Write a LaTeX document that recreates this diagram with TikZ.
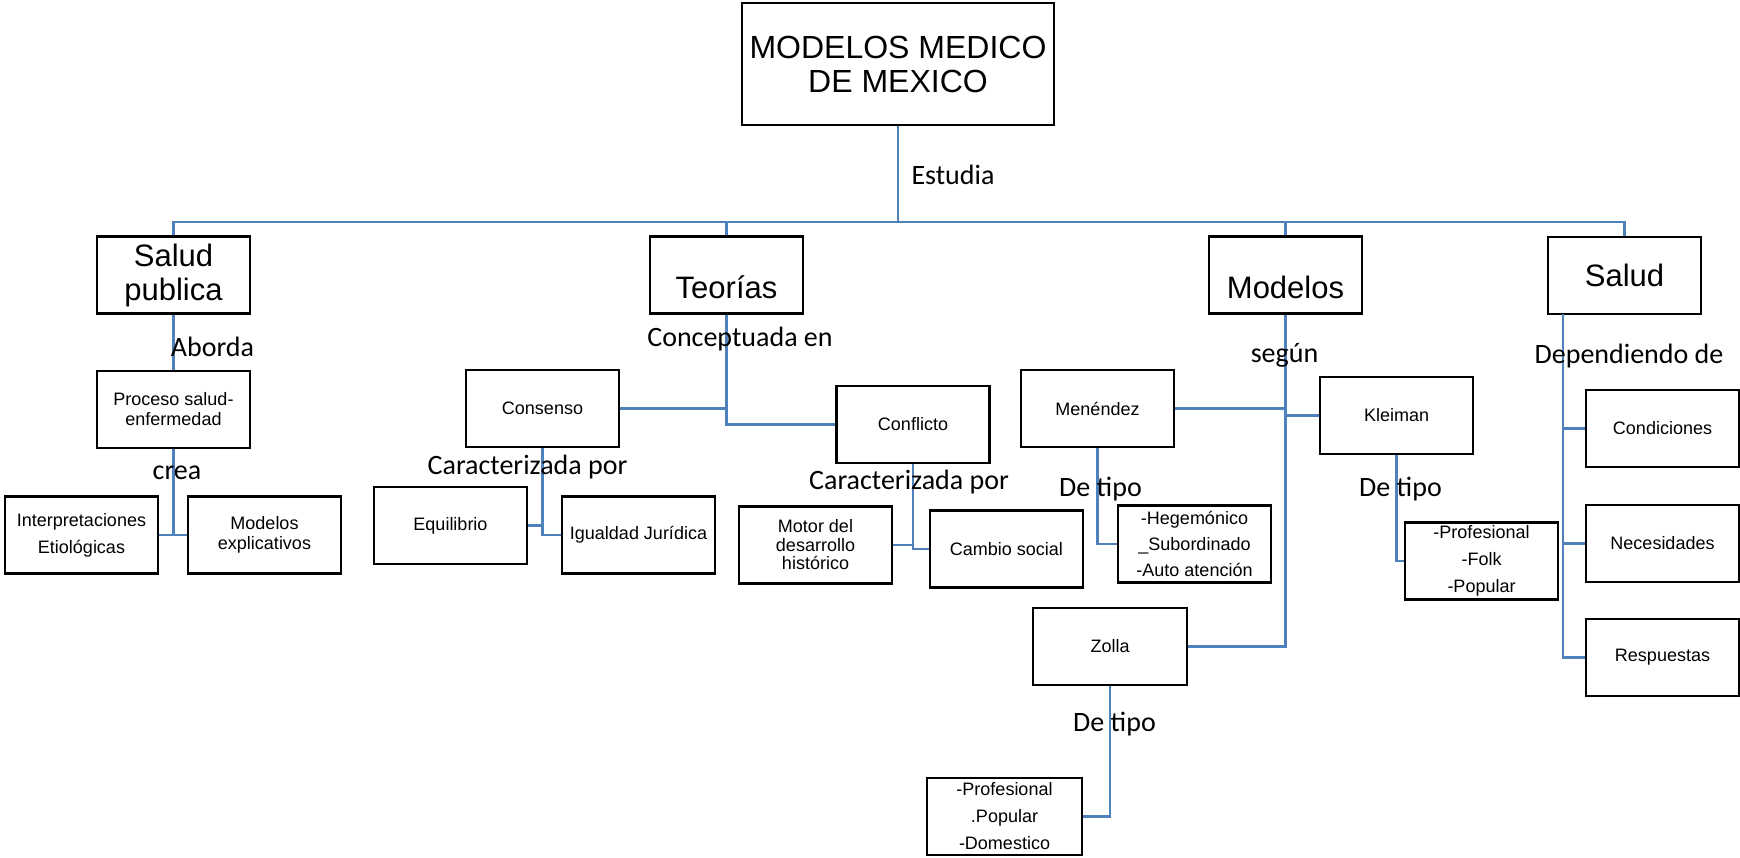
\documentclass[tikz,border=0pt]{standalone}
\usepackage{fontspec}
\setmainfont{Liberation Sans}
\newfontfamily\labfont{Carlito}
\definecolor{lnblue}{RGB}{79,129,189}
\begin{document}
\begin{tikzpicture}[x=1pt,y=-1pt,
  box/.style={draw=black, line width=2.6pt, rectangle, inner sep=0pt, align=center,
    minimum width=153pt, minimum height=77pt, font=\fontsize{18}{20}\selectfont},
  big/.style={box, font=\fontsize{31}{34}\selectfont},
  wide/.style={box, font=\fontsize{18}{27}\selectfont},
  conn/.style={draw=lnblue, line width=2.6pt},
  lab/.style={inner sep=0pt, text height=18pt, text depth=0pt,
    font=\labfont\fontsize{28}{30}\selectfont}]
\useasboundingbox (0,0) rectangle (1740,857);

% nodes
\node[box, minimum width=312pt, minimum height=122pt, font=\fontsize{32}{34}\selectfont] (main) at (898,64) {MODELOS MEDICO\\DE MEXICO};
\node[big] (sp) at (173.5,275) {Salud\\publica};
\node[big, text height=47pt, text depth=0pt] (teo) at (726.5,275) {Teorías};
\node[big, text height=47pt, text depth=0pt] (mod) at (1285.5,275) {Modelos};
\node[big] (sal) at (1624.5,275.5) {Salud};

\node[box] (proc) at (173.5,409.5) {Proceso salud-\\enfermedad};
\node[wide] (interp) at (81.5,535) {Interpretaciones\\Etiológicas};
\node[box] (modexp) at (264.5,535) {Modelos\\explicativos};

\node[box] (cons) at (542.5,408.5) {Consenso};
\node[box] (conf) at (913,424.5) {Conflicto};
\node[box] (equi) at (450.5,525.5) {Equilibrio};
\node[box] (igual) at (638.5,535) {Igualdad Jurídica};
\node[box, font=\fontsize{18}{18.5}\selectfont] (motor) at (815.5,545) {Motor del\\desarrollo\\histórico};
\node[box] (cambio) at (1006.5,549) {Cambio social};

\node[box] (men) at (1097.5,408.5) {Menéndez};
\node[wide, font=\fontsize{18}{26}\selectfont] (heg) at (1194.5,544) {-Hegemónico\\\_Subordinado\\-Auto atención};
\node[box] (klei) at (1396.5,415.5) {Kleiman};
\node[wide] (folk) at (1481.5,561) {-Profesional\\-Folk\\-Popular};
\node[box, minimum width=154pt] (zolla) at (1110,646.5) {Zolla};
\node[wide, minimum width=155pt] (prof) at (1004.5,816.5) {-Profesional\\.Popular\\-Domestico};

\node[box] (cond) at (1662.5,428.5) {Condiciones};
\node[box] (nec) at (1662.5,543.5) {Necesidades};
\node[box] (resp) at (1662.5,657.5) {Respuestas};

% connectors
\coordinate (bus) at (898,222);
\coordinate (sv) at (1563,314);
\draw[conn] (main.south) -- (bus);
\draw[conn] (sp.north) |- (bus) -| (sal.north);
\draw[conn] (teo.north) -- (teo.north |- bus);
\draw[conn] (mod.north) -- (mod.north |- bus);

\draw[conn] (sp.south) -- (proc.north);
\draw[conn] (proc.south) |- (interp.east);
\draw[conn] (proc.south) |- (modexp.west);

\draw[conn] (teo.south) |- (conf.west);
\draw[conn] (cons.east) -- (cons.east -| teo.south);
\draw[conn] (cons.south) |- (igual.west);
\draw[conn] (equi.east) -- (equi.east -| cons.south);
\draw[conn] (conf.south) |- (cambio.west);
\draw[conn] (motor.east) -- (motor.east -| conf.south);

\draw[conn] (mod.south) |- (zolla.east);
\draw[conn] (men.east) -- (men.east -| mod.south);
\draw[conn] (klei.west) -- (klei.west -| mod.south);
\draw[conn] (men.south) |- (heg.west);
\draw[conn] (klei.south) |- (folk.west);
\draw[conn] (zolla.south) |- (prof.east);

\draw[conn] (sv) |- (resp.west);
\draw[conn] (cond.west) -- (cond.west -| sv);
\draw[conn] (nec.west) -- (nec.west -| sv);

% labels
\node[lab] (l1) at (953,175) {Estudia};
\node[lab] (l2) at (212.5,347) {Aborda};
\node[lab] (l3) at (177,470) {crea};
\node[lab] (l4) at (740,337) {Conceptuada en};
\node[lab] (l5) at (527.5,465) {Caracterizada por};
\node[lab] (l6) at (909,480) {Caracterizada por};
\node[lab] (l7) at (1284.5,353) {según};
\node[lab] (l8) at (1100.5,487) {De tipo};
\node[lab] (l9) at (1400.5,487) {De tipo};
\node[lab] (l10) at (1114.5,722) {De tipo};
\node[lab] (l11) at (1629,354) {Dependiendo de};
\end{tikzpicture}
\end{document}
